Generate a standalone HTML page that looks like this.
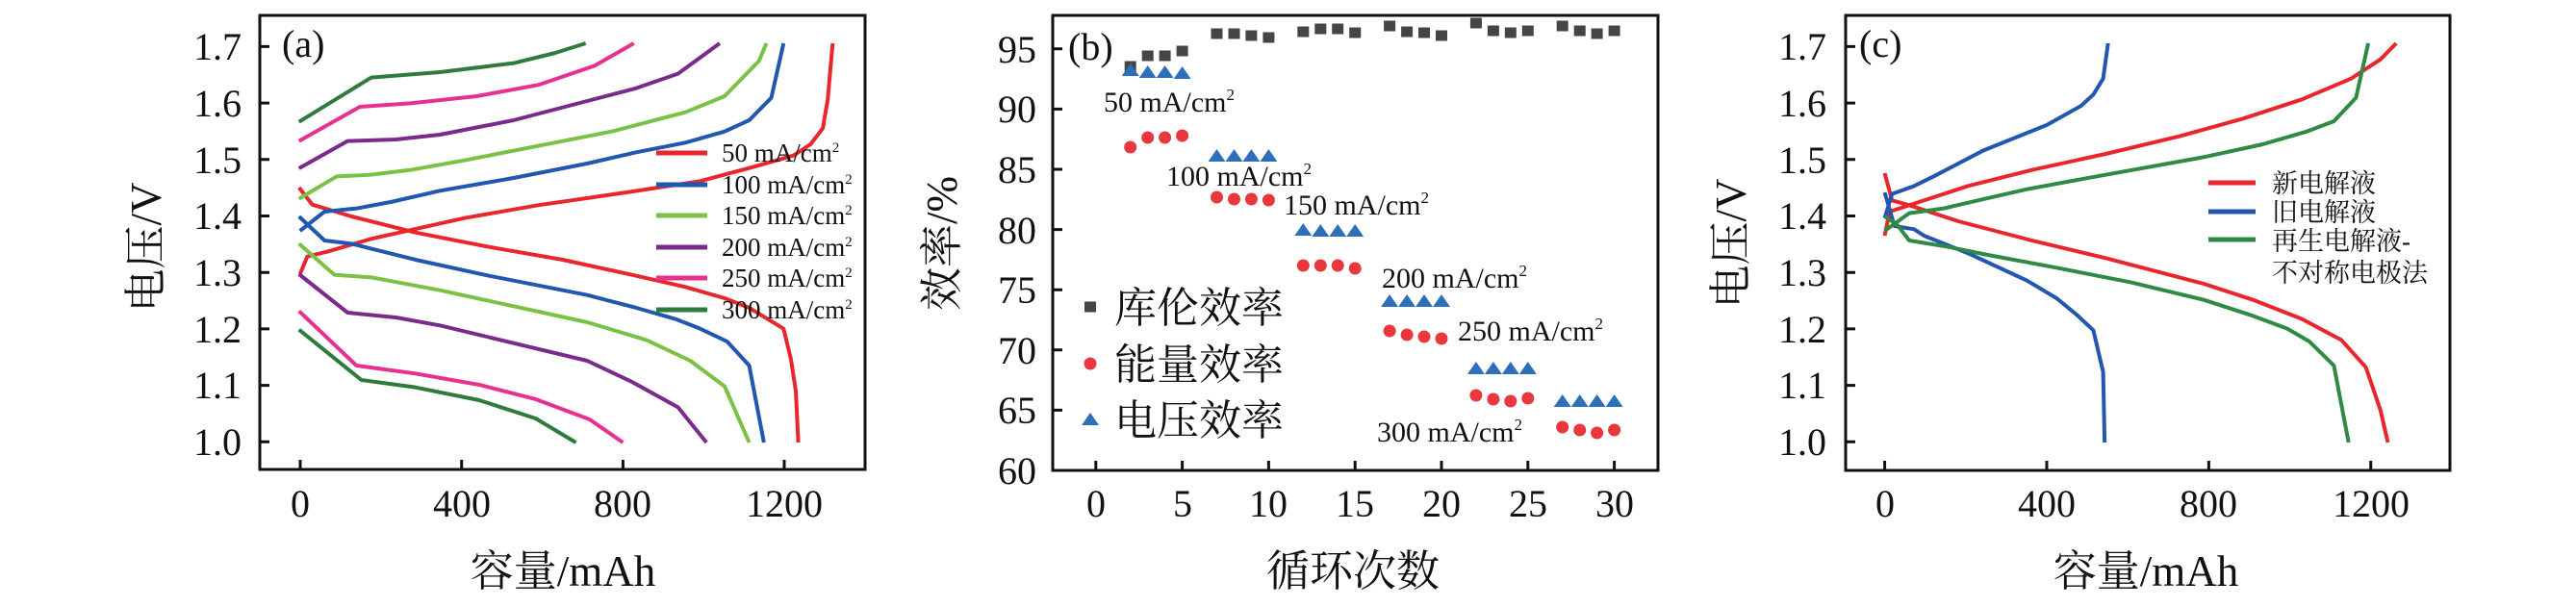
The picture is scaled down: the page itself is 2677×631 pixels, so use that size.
<!DOCTYPE html>
<html><head><meta charset="utf-8"><style>
html,body{margin:0;padding:0;background:#fff;}
svg{display:block;}
text{font-family:"Liberation Serif","Noto Serif CJK SC",serif;fill:#111;}
.t{font-size:40px;}
.ln{fill:none;stroke-width:4;stroke-linejoin:round;stroke-linecap:butt;}
</style></head><body>
<svg width="2677" height="631" viewBox="0 0 2677 631" xmlns="http://www.w3.org/2000/svg">
<defs>
<rect id="sq" x="-6" y="-5.5" width="12" height="11" fill="#454545"/>
<ellipse id="ci" cx="0" cy="0" rx="6.5" ry="6.5" fill="#e8383d"/>
<polygon id="tr" points="0,-7 9,6 -9,6" fill="#2e6fba"/>
</defs>

<!-- ============ Panel A ============ -->
<g stroke="#111" stroke-width="3" fill="none">
<rect x="270" y="16" width="629" height="472"/>
<path d="M312 488V478 M479.7 488V478 M647.4 488V478 M815 488V478"/>
<path d="M270 459.3H280 M270 400.6H280 M270 341.9H280 M270 283.2H280 M270 224.5H280 M270 165.8H280 M270 107.1H280 M270 48.4H280"/>
</g>
<g class="t" text-anchor="end">
<text x="251" y="473">1.0</text><text x="251" y="414">1.1</text><text x="251" y="356">1.2</text><text x="251" y="297">1.3</text>
<text x="251" y="238">1.4</text><text x="251" y="180">1.5</text><text x="251" y="121">1.6</text><text x="251" y="62">1.7</text>
</g>
<g class="t" text-anchor="middle">
<text x="312" y="537">0</text><text x="480" y="537">400</text><text x="647" y="537">800</text><text x="815" y="537">1200</text>
</g>
<text x="585" y="609" text-anchor="middle" style="font-size:45px">容量/mAh</text>
<text transform="translate(167,257) rotate(-90)" text-anchor="middle" style="font-size:45px">电压/V</text>
<text x="293" y="59" style="font-size:40px">(a)</text>

<g transform="translate(100,20) scale(0.5102,0.33333)">
<polyline vector-effect="non-scaling-stroke" class="ln" stroke="#e8262b" points="415,795 430,740 470,725 560,685 750,620 900,580 1080,540 1230,505 1340,460 1420,425 1455,390 1480,340 1490,250 1500,75"/>
<polyline vector-effect="non-scaling-stroke" class="ln" stroke="#e8262b" points="413,525 440,578 520,615 650,665 800,710 950,750 1100,800 1200,835 1280,870 1330,900 1400,965 1415,1060 1425,1160 1430,1320"/>
<polyline vector-effect="non-scaling-stroke" class="ln" stroke="#2257b0" points="415,660 465,600 530,590 600,570 700,535 850,495 1000,450 1100,415 1200,385 1280,350 1330,315 1375,245 1400,75"/>
<polyline vector-effect="non-scaling-stroke" class="ln" stroke="#2257b0" points="413,615 465,690 520,700 650,750 800,800 1000,860 1100,900 1180,935 1230,965 1285,1005 1330,1080 1360,1320"/>
<polyline vector-effect="non-scaling-stroke" class="ln" stroke="#7bc143" points="413,560 490,490 560,485 640,470 750,440 900,395 1050,350 1200,290 1280,240 1350,130 1365,75"/>
<polyline vector-effect="non-scaling-stroke" class="ln" stroke="#7bc143" points="413,700 485,797 560,805 700,845 850,895 1000,945 1120,1000 1210,1065 1280,1145 1330,1320"/>
<polyline vector-effect="non-scaling-stroke" class="ln" stroke="#7a2a8a" points="413,465 512,380 610,375 700,360 850,315 1000,255 1100,215 1185,170 1270,75"/>
<polyline vector-effect="non-scaling-stroke" class="ln" stroke="#7a2a8a" points="413,795 512,915 610,930 700,955 850,1010 1000,1065 1090,1130 1185,1210 1243,1320"/>
<polyline vector-effect="non-scaling-stroke" class="ln" stroke="#e8318e" points="413,380 537,273 640,262 775,240 900,205 1015,145 1095,75"/>
<polyline vector-effect="non-scaling-stroke" class="ln" stroke="#e8318e" points="413,910 530,1080 650,1105 780,1140 895,1185 1005,1248 1073,1320"/>
<polyline vector-effect="non-scaling-stroke" class="ln" stroke="#2e7b3c" points="413,320 560,182 700,165 850,137 935,105 997,75"/>
<polyline vector-effect="non-scaling-stroke" class="ln" stroke="#2e7b3c" points="413,968 540,1125 650,1148 780,1188 895,1245 977,1320"/>
</g>
<g stroke-width="5">
<line x1="682" y1="159" x2="735" y2="159" stroke="#e8262b"/>
<line x1="682" y1="192" x2="735" y2="192" stroke="#2257b0"/>
<line x1="682" y1="224" x2="735" y2="224" stroke="#7bc143"/>
<line x1="682" y1="257" x2="735" y2="257" stroke="#7a2a8a"/>
<line x1="682" y1="289" x2="735" y2="289" stroke="#e8318e"/>
<line x1="682" y1="322" x2="735" y2="322" stroke="#2e7b3c"/>
</g>
<g style="font-size:27px">
<text x="750" y="168">50 mA/cm<tspan dy="-10" style="font-size:15px">2</tspan></text>
<text x="750" y="201">100 mA/cm<tspan dy="-10" style="font-size:15px">2</tspan></text>
<text x="750" y="233">150 mA/cm<tspan dy="-10" style="font-size:15px">2</tspan></text>
<text x="750" y="266">200 mA/cm<tspan dy="-10" style="font-size:15px">2</tspan></text>
<text x="750" y="298">250 mA/cm<tspan dy="-10" style="font-size:15px">2</tspan></text>
<text x="750" y="331">300 mA/cm<tspan dy="-10" style="font-size:15px">2</tspan></text>
</g>

<!-- ============ Panel B ============ -->
<g stroke="#111" stroke-width="3" fill="none">
<rect x="1094" y="16" width="629" height="473"/>
<path d="M1138.8 489V479 M1228.6 489V479 M1318.4 489V479 M1408.2 489V479 M1498 489V479 M1587.8 489V479 M1677.6 489V479"/>
<path d="M1094 426.4H1104 M1094 363.8H1104 M1094 301.2H1104 M1094 238.6H1104 M1094 176H1104 M1094 113.4H1104 M1094 50.8H1104"/>
</g>
<g class="t" text-anchor="end">
<text x="1077" y="503">60</text><text x="1077" y="440">65</text><text x="1077" y="378">70</text><text x="1077" y="315">75</text>
<text x="1077" y="253">80</text><text x="1077" y="190">85</text><text x="1077" y="127">90</text><text x="1077" y="65">95</text>
</g>
<g class="t" text-anchor="middle">
<text x="1139" y="537">0</text><text x="1229" y="537">5</text><text x="1318" y="537">10</text><text x="1408" y="537">15</text>
<text x="1498" y="537">20</text><text x="1588" y="537">25</text><text x="1678" y="537">30</text>
</g>
<text x="1406" y="609" text-anchor="middle" style="font-size:45px">循环次数</text>
<text transform="translate(994,253) rotate(-90)" text-anchor="middle" style="font-size:45px">效率/%</text>
<text x="1110" y="62" style="font-size:40px">(b)</text>

<use href="#sq" x="1174.7" y="69"/><use href="#sq" x="1192.7" y="58"/><use href="#sq" x="1210.6" y="58"/><use href="#sq" x="1228.6" y="53"/>
<use href="#sq" x="1264.5" y="35"/><use href="#sq" x="1282.5" y="35"/><use href="#sq" x="1300.4" y="37"/><use href="#sq" x="1318.4" y="39"/>
<use href="#sq" x="1354.3" y="33"/><use href="#sq" x="1372.3" y="30"/><use href="#sq" x="1390.2" y="30"/><use href="#sq" x="1408.2" y="34"/>
<use href="#sq" x="1444.1" y="27"/><use href="#sq" x="1462.1" y="33"/><use href="#sq" x="1480" y="34"/><use href="#sq" x="1498" y="37"/>
<use href="#sq" x="1533.9" y="24"/><use href="#sq" x="1551.9" y="32"/><use href="#sq" x="1569.8" y="34"/><use href="#sq" x="1587.8" y="32"/>
<use href="#sq" x="1623.7" y="27"/><use href="#sq" x="1641.7" y="32"/><use href="#sq" x="1659.6" y="35"/><use href="#sq" x="1677.6" y="32"/>
<use href="#ci" x="1174.7" y="153"/><use href="#ci" x="1192.7" y="143"/><use href="#ci" x="1210.6" y="143"/><use href="#ci" x="1228.6" y="141"/>
<use href="#ci" x="1264.5" y="205"/><use href="#ci" x="1282.5" y="207"/><use href="#ci" x="1300.4" y="207"/><use href="#ci" x="1318.4" y="208"/>
<use href="#ci" x="1354.3" y="276"/><use href="#ci" x="1372.3" y="276"/><use href="#ci" x="1390.2" y="276"/><use href="#ci" x="1408.2" y="279"/>
<use href="#ci" x="1444.1" y="344"/><use href="#ci" x="1462.1" y="348"/><use href="#ci" x="1480" y="350"/><use href="#ci" x="1498" y="352"/>
<use href="#ci" x="1533.9" y="411"/><use href="#ci" x="1551.9" y="415"/><use href="#ci" x="1569.8" y="417"/><use href="#ci" x="1587.8" y="414"/>
<use href="#ci" x="1623.7" y="444"/><use href="#ci" x="1641.7" y="447"/><use href="#ci" x="1659.6" y="450"/><use href="#ci" x="1677.6" y="447"/>
<use href="#tr" x="1174.7" y="73"/><use href="#tr" x="1192.7" y="75"/><use href="#tr" x="1210.6" y="75"/><use href="#tr" x="1228.6" y="76"/>
<use href="#tr" x="1264.5" y="162"/><use href="#tr" x="1282.5" y="162"/><use href="#tr" x="1300.4" y="162"/><use href="#tr" x="1318.4" y="162"/>
<use href="#tr" x="1354.3" y="239"/><use href="#tr" x="1372.3" y="240"/><use href="#tr" x="1390.2" y="240"/><use href="#tr" x="1408.2" y="240"/>
<use href="#tr" x="1444.1" y="313"/><use href="#tr" x="1462.1" y="313"/><use href="#tr" x="1480" y="313"/><use href="#tr" x="1498" y="313"/>
<use href="#tr" x="1533.9" y="383"/><use href="#tr" x="1551.9" y="383"/><use href="#tr" x="1569.8" y="383"/><use href="#tr" x="1587.8" y="383"/>
<use href="#tr" x="1623.7" y="417"/><use href="#tr" x="1641.7" y="417"/><use href="#tr" x="1659.6" y="417"/><use href="#tr" x="1677.6" y="417"/>

<g style="font-size:30px">
<text x="1147" y="116">50 mA/cm<tspan dy="-12" style="font-size:17px">2</tspan></text>
<text x="1212" y="193">100 mA/cm<tspan dy="-12" style="font-size:17px">2</tspan></text>
<text x="1334" y="223">150 mA/cm<tspan dy="-12" style="font-size:17px">2</tspan></text>
<text x="1436" y="299">200 mA/cm<tspan dy="-12" style="font-size:17px">2</tspan></text>
<text x="1515" y="354">250 mA/cm<tspan dy="-12" style="font-size:17px">2</tspan></text>
<text x="1431" y="459">300 mA/cm<tspan dy="-12" style="font-size:17px">2</tspan></text>
</g>
<use href="#sq" x="1133" y="319"/>
<use href="#ci" x="1133" y="378"/>
<use href="#tr" x="1133" y="436"/>
<g style="font-size:44px">
<text x="1158" y="335">库伦效率</text>
<text x="1158" y="394">能量效率</text>
<text x="1158" y="452">电压效率</text>
</g>

<!-- ============ Panel C ============ -->
<g stroke="#111" stroke-width="3" fill="none">
<rect x="1918" y="16" width="628" height="473"/>
<path d="M1958.6 489V479 M2127 489V479 M2295.4 489V479 M2463.7 489V479"/>
<path d="M1918 459.3H1928 M1918 400.6H1928 M1918 341.9H1928 M1918 283.2H1928 M1918 224.5H1928 M1918 165.8H1928 M1918 107.1H1928 M1918 48.4H1928"/>
</g>
<g class="t" text-anchor="end">
<text x="1898" y="473">1.0</text><text x="1898" y="414">1.1</text><text x="1898" y="356">1.2</text><text x="1898" y="297">1.3</text>
<text x="1898" y="238">1.4</text><text x="1898" y="180">1.5</text><text x="1898" y="121">1.6</text><text x="1898" y="62">1.7</text>
</g>
<g class="t" text-anchor="middle">
<text x="1959" y="537">0</text><text x="2127" y="537">400</text><text x="2295" y="537">800</text><text x="2464" y="537">1200</text>
</g>
<text x="2230" y="609" text-anchor="middle" style="font-size:45px">容量/mAh</text>
<text transform="translate(1814,253) rotate(-90)" text-anchor="middle" style="font-size:45px">电压/V</text>
<text x="1932" y="59" style="font-size:40px">(c)</text>

<g transform="translate(1780,20) scale(0.5102,0.33333)">
<polyline vector-effect="non-scaling-stroke" class="ln" stroke="#e8262b" points="350,675 360,600 420,570 520,520 650,470 800,420 950,365 1080,310 1200,250 1300,185 1360,125 1392,75"/>
<polyline vector-effect="non-scaling-stroke" class="ln" stroke="#e8262b" points="350,480 365,565 400,580 500,630 650,690 800,745 1000,825 1100,875 1200,935 1280,1000 1330,1085 1360,1220 1375,1320"/>
<polyline vector-effect="non-scaling-stroke" class="ln" stroke="#2257b0" points="350,620 365,545 410,520 450,490 550,410 680,330 750,270 775,235 795,185 805,75"/>
<polyline vector-effect="non-scaling-stroke" class="ln" stroke="#2257b0" points="350,540 370,645 410,655 430,675 520,730 640,815 700,870 740,920 775,970 795,1100 798,1320"/>
<polyline vector-effect="non-scaling-stroke" class="ln" stroke="#2e8a45" points="350,660 400,605 470,590 540,565 640,530 800,485 1000,430 1120,390 1210,350 1265,318 1310,245 1335,75"/>
<polyline vector-effect="non-scaling-stroke" class="ln" stroke="#2e8a45" points="350,615 375,640 400,690 480,710 560,735 700,775 850,820 1000,875 1100,925 1170,965 1215,1005 1265,1080 1295,1320"/>
</g>
<g stroke-width="5">
<line x1="2295" y1="190" x2="2344" y2="190" stroke="#e8262b"/>
<line x1="2295" y1="220" x2="2344" y2="220" stroke="#2257b0"/>
<line x1="2295" y1="249" x2="2344" y2="249" stroke="#2e8a45"/>
</g>
<g style="font-size:27px">
<text x="2361" y="200">新电解液</text>
<text x="2361" y="230">旧电解液</text>
<text x="2361" y="260">再生电解液-</text>
<text x="2361" y="293">不对称电极法</text>
</g>
</svg>
</body></html>
